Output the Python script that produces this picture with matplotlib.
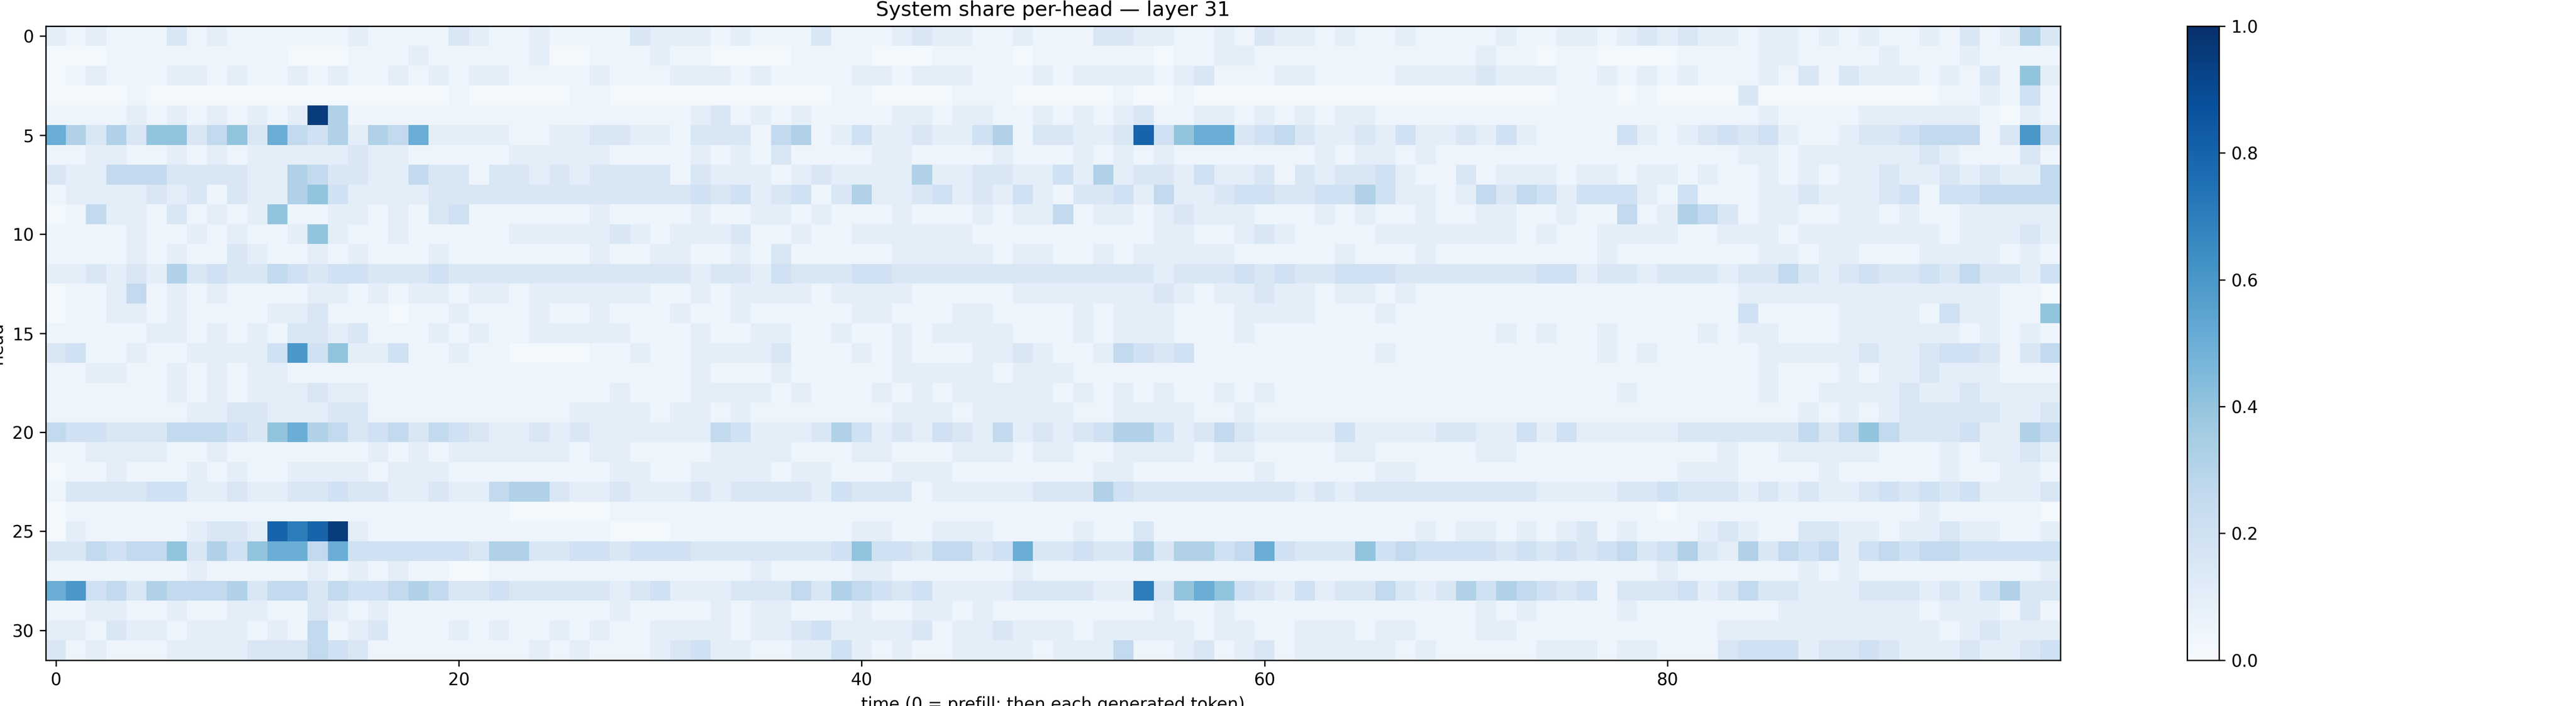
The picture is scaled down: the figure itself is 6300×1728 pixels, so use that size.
import numpy as np
import matplotlib
matplotlib.use("Agg")
import matplotlib.pyplot as plt

# level code -> share value (read by eye from the reference colours)
level_codes = "0123456789abc"
level_values = [0.02, 0.05, 0.10, 0.15, 0.20, 0.26, 0.32, 0.40, 0.50, 0.60, 0.70, 0.80, 0.95]

# one string per head, one char per time step (100 steps)
head_rows = [
    "2121113121 1111121111 3211211113 2221211131 1123221121 1133221121 3221211211 1121122123 2322122121 2112131263",
    "0001111111 1100011121 1111200111 2110000111 1000111101 1111101122 1111111111 1211011000 0111122111 1211121111",
    "0121112212 1121211212 1221111211 1222121111 2212221112 1222212311 1221111222 2322211212 1211121313 2221213172",
    "0000100000 0000000000 1000001100 0000000001 1000011100 0001001000 0000000000 0000011101 0000300000 0000112141",
    "1111212121 212c611111 1111111111 1123121211 1122122112 1212311221 2121221111 1111111111 1111121111 2222221021",
    "8636377357 3854626582 2221122332 2133315612 4223224613 3223b47883 4532232422 3242111142 1234342112 3345551395",
    "1122112121 2222232211 1112222211 1121213111 1221111211 1212121111 1112122121 1111111111 1111221222 2223211131",
    "3225553333 2265332253 3133232333 3132221232 2226223322 4262332422 3132334211 3122212212 2121121212 2322323225",
    "1222232313 2267422223 3333333333 3343423413 6223423242 1334252234 4334464221 2535424442 1411122322 2341445555",
    "0152213121 2711221213 4111111211 1121122121 1121112122 5122123222 1112121121 1221121151 2653122112 2121122222",
    "1111211212 1127211211 1112222232 1222311211 2222221111 1111122112 3211112222 2221211222 2112221222 2222122232",
    "1111212113 2112121112 1111111211 2211213111 1122222122 1121222221 1111211121 1111111211 1111122122 1112222121",
    "2232326343 3543443334 3333333333 3323324333 4433333333 3333323334 3433444333 3333442332 3332335323 4334353324",
    "0112512121 1112212122 1221222222 1121222212 2221111122 2222232122 3221221211 1111111111 1111222222 2222222110",
    "0112212111 1223111011 2111211211 1211211111 2211122111 1212221112 2221112111 1111111111 1111411112 2221422117",
    "1111122121 2133231112 1211222221 1121122112 1121222211 1212221112 1111111111 1121211211 1121221112 2222212121",
    "3411211222 2494722411 2110000112 1122223111 2121112232 1125434111 1111112111 1111111212 1111122222 3223443135",
    "1122112121 2211111111 1111111111 1121112111 1122222122 2111111111 1111111111 1111111111 1111121112 1223222111",
    "1111112121 2223221111 1111111121 1122221211 1212122222 1212121121 2111111111 1111111121 1111121122 2232232222",
    "1111111223 3222331111 1111112222 1221211111 1122212222 2112222112 1111111111 1111111111 1111111212 1233333223",
    "5443335554 3786534535 4322323222 2225422236 4232432523 2346642353 2222422223 3224242222 2333333535 7533342265",
    "1122221121 1111112121 2222221221 1112222111 2211122212 2112222122 1111221111 1221111111 1112112222 2111212232",
    "0112111212 1122221222 1111111122 1122221221 1122211111 1122111111 2111112211 1111111111 1222111121 1111211221",
    "1333344223 2233433223 2256632232 2232333324 3331222223 3364333333 3323233333 3333222233 4333232322 3434342223",
    "0111111111 1111111111 1110000011 1111111111 1111111111 1111111111 1111111111 1111111111 0111111111 1112111110",
    "0211111233 2babc21111 1111111100 0111111111 2211222111 1211311111 1111111121 2212123121 1123211332 2122322112",
    "3354557364 7885844444 4366334434 4433333334 7443553483 3433636645 8433374544 4434343453 4632635452 4545544444",
    "1111111211 1112121211 0011111111 1111121111 2211111121 1111111111 1111111111 1111111111 2111111212 1111111112",
    "8945365556 3553544565 3343333323 4222333536 5434222233 3322a37874 3242335323 6465434133 3423533222 3332324633",
    "1122112112 2113212111 1111111121 1112122111 2112212111 1111121121 1111111111 1212111121 1111112222 2221222131",
    "2213221222 1215123111 2121121211 2222122342 2223122322 2122222122 1122212211 1221111111 1112222222 2222123222",
    "3121112222 3335431111 1111212111 2342211224 2121122221 2225112312 3122222121 1111222122 1113444233 4322232234",
]

lookup = dict(zip(level_codes, level_values))
share = np.array([[lookup[c] for c in row.replace(" ", "")] for row in head_rows])

fig = plt.figure(figsize=(21, 5.76), dpi=300)
ax = fig.add_axes([0.0178, 0.065, 0.782, 0.898])
im = ax.imshow(share, aspect="auto", cmap="Blues", vmin=0, vmax=1, interpolation="nearest")
ax.set_title("System share per-head — layer 31")
ax.set_xlabel("time (0 = prefill; then each generated token)")
ax.set_ylabel("head")

cax = fig.add_axes([0.849, 0.065, 0.0125, 0.898])
fig.colorbar(im, cax=cax)

fig.savefig("out.png", dpi=300)
